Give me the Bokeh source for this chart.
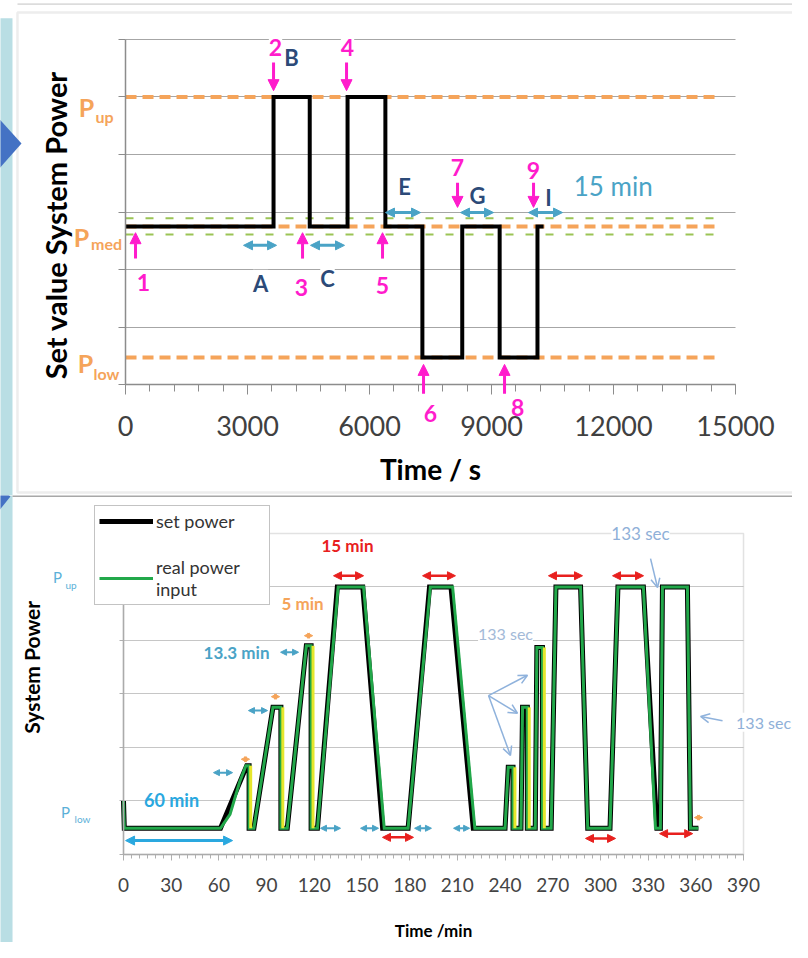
import math
from bokeh.plotting import figure
from bokeh.layouts import column
from bokeh.models import (Range1d, SingleIntervalTicker, FixedTicker, Label, Arrow, NormalHead,
                          OpenHead, Legend, LegendItem, PolyAnnotation, BoxAnnotation)
from bokeh.embed import file_html
from bokeh.resources import INLINE

FONT = "Lato"

# ---------------- top chart data (time in s, power in relative units) ----------------
P_UP, P_MED, P_LOW = 5.0, 2.75, 0.47
BAND_HI, BAND_LO = 2.89, 2.61
top_edges = [0, 3640, 4530, 5460, 6390, 7300, 8280, 9200, 10130, 10280]
top_levels = [P_MED, P_UP, P_MED, P_UP, P_MED, P_LOW, P_MED, P_LOW, P_MED]
ref_end = 14580
band_end = 14680
top_grid = [1, 2, 3, 4, 5, 6]

num_labels = ["1", "2", "3", "4", "5", "6", "7", "8", "9"]
num_x = [443, 3689, 4328, 5459, 6320, 7500, 8164, 9640, 10033]
num_y = [1.77, 5.86, 1.69, 5.86, 1.72, -0.50, 3.77, -0.40, 3.72]
marker_x = [246, 3640, 4353, 5435, 6320, 7328, 8164, 9320, 10033]
marker_y0 = [2.19, 5.60, 2.19, 5.60, 2.19, -0.16, 3.51, -0.16, 3.51]
marker_y1 = [2.64, 5.11, 2.64, 5.11, 2.64, 0.35, 3.08, 0.35, 3.08]
phase_labels = ["A", "B", "C", "E", "G", "I"]
phase_x = [3320, 4082, 4967, 6861, 8656, 10402]
phase_y = [1.76, 5.69, 1.84, 3.44, 3.29, 3.25]
dur_x0 = [2902, 4549, 6393, 8238, 9910]
dur_x1 = [3714, 5385, 7254, 9049, 10746]
dur_y = [2.42, 2.42, 2.99, 2.99, 2.99]

# ---------------- bottom chart data (time in min) ----------------
set_t = [0, 0.5, 61, 77.5, 79, 79, 82, 94, 99, 99, 103, 115, 118, 118, 122, 134.5, 150.5,
         163, 179, 192.5, 206, 220, 240, 242, 245, 245, 250, 251, 254, 254, 259, 260, 263.5,
         263.5, 269, 272, 287.5, 292, 306, 311, 327, 335.5, 337.7, 339, 354.7, 356.6, 361.6]
set_p = [1.0, 0.49, 0.49, 1.66, 1.66, 0.49, 0.49, 2.75, 2.75, 0.49, 0.49, 3.9, 3.9, 0.49,
         0.49, 5.0, 5.0, 0.49, 0.49, 5.0, 5.0, 0.49, 0.49, 1.63, 1.63, 0.49, 0.49, 2.75, 2.75,
         0.49, 0.49, 3.87, 3.87, 0.49, 0.49, 5.0, 5.0, 0.49, 0.49, 5.0, 5.0, 0.49, 0.49, 5.0,
         5.0, 0.49, 0.49]
real_t = [0, 0.5, 61, 67, 73, 77, 79, 79, 82, 94, 99, 99, 103, 115, 118, 118, 122, 135, 151,
          164, 179, 193, 207, 221, 240, 242, 245, 245, 250, 251, 254, 254, 259, 260, 263.5,
          263.5, 269, 272, 287.5, 292, 306, 311, 327, 334.6, 337.7, 339, 354.7, 356.6, 361.6]
real_p = [1.0, 0.49, 0.49, 0.75, 1.35, 1.66, 1.66, 0.49, 0.49, 2.75, 2.75, 0.49, 0.49, 3.9,
          3.9, 0.49, 0.49, 5.0, 5.0, 0.49, 0.49, 5.0, 5.0, 0.49, 0.49, 1.63, 1.63, 0.49, 0.49,
          2.75, 2.75, 0.49, 0.49, 3.87, 3.87, 0.49, 0.49, 5.0, 5.0, 0.49, 0.49, 5.0, 5.0, 0.49,
          0.49, 5.0, 5.0, 0.49, 0.49]
drop_t = [80, 100.2, 119.2, 246.2, 255.2, 264.7]
drop_top = [1.66, 2.75, 3.9, 1.63, 2.75, 3.87]
BASE = 0.49
bottom_grid = [1, 2, 3, 4, 5]

teal_x0 = [56.6, 78.6, 98.8, 123.9, 149.1, 183.1, 207.6]
teal_x1 = [68.6, 90.6, 110.1, 136.5, 160.4, 193.7, 217.7]
teal_y = [1.53, 2.69, 3.78, 0.49, 0.49, 0.49, 0.49]
orange_x = [76.7, 95.6, 116.4, 361.7]
orange_y = [1.78, 2.95, 4.09, 0.69]
red_x0 = [132.1, 188.1, 267.3, 307.6, 162.9, 290.6, 337.2]
red_x1 = [151.0, 208.8, 288.7, 327.1, 182.4, 309.5, 358.0]
red_y = [5.21, 5.21, 5.21, 5.21, 0.32, 0.30, 0.39]
hint_x0 = [331.5, 229.6, 229.6, 229.6, 376.8]
hint_y0 = [5.53, 2.97, 2.97, 2.97, 2.50]
hint_x1 = [335.9, 254.1, 247.8, 243.4, 363.0]
hint_y1 = [4.99, 3.35, 2.64, 1.85, 2.58]

MAGENTA = "#ff1ccc"
NAVY = "#2c4a78"
TEAL = "#4aa3c6"
ORANGE = "#f5a45a"
GREEN_D = "#9bc455"
STRIP = "#b9dee4"
TRI = "#4472c4"


def style_axis(ax, color):
    ax.axis_line_color = color
    ax.axis_line_width = 1.5
    ax.major_tick_line_color = color
    ax.minor_tick_line_color = color
    ax.major_tick_in = 0
    ax.minor_tick_in = 0
    ax.major_label_text_font = FONT
    ax.axis_label_text_font = FONT
    ax.axis_label_text_font_style = "bold"
    ax.axis_label_text_color = "black"


def lab(p, x, y, text, color, size, style="bold", bg=None, angle=0):
    p.add_layout(Label(x=x, y=y, text=text, text_align="center", text_baseline="middle",
                       text_font=FONT, text_font_size=size, text_font_style=style,
                       text_color=color, background_fill_color=bg, angle=angle))


def dbl_arrow(p, x0, y0, x1, y1, color, width, size):
    p.add_layout(Arrow(x_start=x0, y_start=y0, x_end=x1, y_end=y1, line_color=color,
                       line_width=width,
                       start=NormalHead(size=size, fill_color=color, line_color=color),
                       end=NormalHead(size=size, fill_color=color, line_color=color)))


# ======================= top figure =======================
p1 = figure(x_range=Range1d(-3074, 16401), y_range=Range1d(-1.930, 6.678), width=792, height=495,
            min_border=0, output_backend="svg", toolbar_location=None)
p1.outline_line_color = None
p1.background_fill_color = "white"
p1.border_fill_color = "white"

# panel decoration
p1.add_layout(PolyAnnotation(xs=[-3300, -2779, -2779, -3300], ys=[6.37, 6.37, -2.1, -2.1],
                             fill_color=STRIP, fill_alpha=1, line_color=None))
p1.add_layout(BoxAnnotation(left=-2656, right=16672, top=6.47, bottom=-1.88, fill_alpha=0,
                            line_color="#c4c4c4", line_width=2.5))
p1.add_layout(BoxAnnotation(left=-2656, right=16672, top=6.63, bottom=6.60, fill_color="#dcdcdc",
                            fill_alpha=1, line_color=None))
p1.add_layout(PolyAnnotation(xs=[-3300, -2557, -3300], ys=[4.77, 4.19, 3.60],
                             fill_color=TRI, fill_alpha=1, line_color=None))

p1.xaxis.ticker = SingleIntervalTicker(interval=3000, num_minor_ticks=5)
p1.yaxis.ticker = SingleIntervalTicker(interval=1, num_minor_ticks=0)
p1.xaxis.fixed_location = 0
p1.yaxis.fixed_location = 0
p1.xaxis.bounds = (0, 15000)
p1.yaxis.bounds = (0, 6)
p1.xgrid.grid_line_color = None
p1.ygrid.ticker = FixedTicker(ticks=top_grid)
p1.ygrid.cross_bounds = (0, 15000)
p1.ygrid.grid_line_color = "#a6a6a6"
p1.ygrid.grid_line_width = 1.2
style_axis(p1.xaxis[0], "#8c8c8c")
style_axis(p1.yaxis[0], "#8c8c8c")
p1.xaxis.major_tick_out = 10
p1.xaxis.minor_tick_out = 7
p1.xaxis.major_label_text_font_size = "27px"
p1.xaxis.major_label_text_color = "#404040"
p1.xaxis.major_label_standoff = 21
p1.xaxis.axis_label = "Time / s"
p1.xaxis.axis_label_text_font_size = "28px"
p1.xaxis.axis_label_standoff = 13
p1.yaxis.major_tick_out = 7
p1.yaxis.minor_tick_out = 0
p1.yaxis.major_label_overrides = {i: "" for i in range(7)}
lab(p1, -1721, 2.77, "Set value System Power", "black", "29px", angle=math.pi / 2)

# reference levels
p1.line([0, ref_end], [P_UP, P_UP], line_color=ORANGE, line_width=4, line_dash="11 6")
p1.line([0, ref_end], [P_LOW, P_LOW], line_color=ORANGE, line_width=4, line_dash="11 6")
p1.line([0, band_end], [BAND_HI, BAND_HI], line_color=GREEN_D, line_width=2, line_dash="8 12")
p1.line([0, band_end], [BAND_LO, BAND_LO], line_color=GREEN_D, line_width=2, line_dash="8 12")
p1.line([0, ref_end], [P_MED, P_MED], line_color=ORANGE, line_width=4, line_dash="11 6")

sx, sy = [], []
for i, lv in enumerate(top_levels):
    sx += [top_edges[i], top_edges[i + 1]]
    sy += [lv, lv]
p1.line(sx, sy, line_color="black", line_width=4, line_join="miter")

for t, x, y in zip(num_labels, num_x, num_y):
    lab(p1, x, y, t, MAGENTA, "23px", bg="white")
for x, y0, y1 in zip(marker_x, marker_y0, marker_y1):
    p1.add_layout(Arrow(x_start=x, y_start=y0, x_end=x, y_end=y1, line_color=MAGENTA, line_width=3,
                        end=NormalHead(size=11, fill_color=MAGENTA, line_color=MAGENTA)))
for t, x, y in zip(phase_labels, phase_x, phase_y):
    lab(p1, x, y, t, NAVY, "22px", bg="white")
for x0, x1, y in zip(dur_x0, dur_x1, dur_y):
    dbl_arrow(p1, x0, y, x1, y, TEAL, 3, 9)
lab(p1, 12074, 3.46, "15  min", TEAL, "26px", style="normal")

for txt, sub, px_, py_, sx_, sy_ in [("P", "up", -959, 4.83, -516, 4.66),
                                     ("P", "med", -1082, 2.57, -467, 2.45),
                                     ("P", "low", -984, 0.37, -467, 0.19)]:
    lab(p1, px_, py_, txt, ORANGE, "25px")
    lab(p1, sx_, sy_, sub, ORANGE, "16px")

# ======================= bottom figure =======================
p2 = figure(x_range=Range1d(-77.37, 420.8), y_range=Range1d(-1.645, 6.710), width=792, height=447,
            min_border=0, output_backend="svg", toolbar_location=None)
p2.outline_line_color = None
p2.background_fill_color = "white"
p2.border_fill_color = "white"

p2.add_layout(PolyAnnotation(xs=[-90, -69.8, -69.8, -90], ys=[7.0, 7.0, -2.0, -2.0],
                             fill_color=STRIP, fill_alpha=1, line_color=None))
p2.add_layout(PolyAnnotation(xs=[-90, -71.1, -90], ys=[7.18, 6.69, 6.0],
                             fill_color=TRI, fill_alpha=1, line_color=None))
p2.add_layout(BoxAnnotation(left=-69.8, right=500, top=6.75, bottom=6.68, fill_color="#a8a8a8",
                            fill_alpha=1, line_color=None))
p2.add_layout(BoxAnnotation(left=0, right=390, top=6, bottom=0, fill_alpha=0,
                            line_color="#a0a0a0", line_width=1.5))

p2.xaxis.ticker = SingleIntervalTicker(interval=30, num_minor_ticks=6)
p2.yaxis.ticker = SingleIntervalTicker(interval=1, num_minor_ticks=0)
p2.xaxis.fixed_location = 0
p2.yaxis.fixed_location = 0
p2.xaxis.bounds = (0, 390)
p2.yaxis.bounds = (0, 6)
p2.xgrid.grid_line_color = None
p2.ygrid.ticker = FixedTicker(ticks=bottom_grid)
p2.ygrid.cross_bounds = (0, 390)
p2.ygrid.grid_line_color = "#c6c6c6"
p2.ygrid.grid_line_width = 1.2
style_axis(p2.xaxis[0], "#b0b0b0")
style_axis(p2.yaxis[0], "#b0b0b0")
p2.xaxis.major_tick_out = 6
p2.xaxis.minor_tick_out = 4
p2.xaxis.major_label_text_font_size = "19px"
p2.xaxis.major_label_text_color = "#444444"
p2.xaxis.major_label_standoff = 18
p2.xaxis.axis_label = "Time /min"
p2.xaxis.axis_label_text_font_size = "17px"
p2.xaxis.axis_label_standoff = 24
p2.yaxis.major_tick_out = 4
p2.yaxis.minor_tick_out = 0
p2.yaxis.major_label_overrides = {i: "" for i in range(7)}
lab(p2, -57.9, 3.50, "System Power", "black", "21px", angle=math.pi / 2)

r_set = p2.line(set_t, set_p, line_color="black", line_width=5, line_join="miter")
r_real = p2.line(real_t, real_p, line_color="#22a84a", line_width=3, line_join="miter")
p2.segment(x0=drop_t, y0=drop_top, x1=drop_t, y1=[BASE] * len(drop_t), line_color="#e6e62c",
           line_width=3)

for x0, x1, y in zip(teal_x0, teal_x1, teal_y):
    dbl_arrow(p2, x0, y, x1, y, TEAL, 2, 6)
for x, y in zip(orange_x, orange_y):
    dbl_arrow(p2, x - 2.6, y, x + 2.6, y, ORANGE, 1.5, 5)
for x0, x1, y in zip(red_x0, red_x1, red_y):
    dbl_arrow(p2, x0, y, x1, y, "#e8201e", 2.5, 8)
dbl_arrow(p2, 1.3, 0.26, 68.6, 0.26, "#2aa8df", 3, 9)
for x0, y0, x1, y1 in zip(hint_x0, hint_y0, hint_x1, hint_y1):
    p2.add_layout(Arrow(x_start=x0, y_start=y0, x_end=x1, y_end=y1, line_color="#8fb2dc",
                        line_width=1.5, end=OpenHead(size=9, line_color="#8fb2dc", line_width=1.5)))

lab(p2, 30.2, 1.01, "60 min", "#2aa8df", "18px")
lab(p2, 71.1, 3.78, "13.3 min", TEAL, "17px")
lab(p2, 112.6, 4.69, "5 min", ORANGE, "17px")
lab(p2, 140.9, 5.78, "15 min", "#e8201e", "17px")
lab(p2, 325.2, 6.0, "133 sec", "#8fb0d8", "17px", style="normal", bg="white")
lab(p2, 240.3, 4.13, "133 sec", "#a3bad8", "16px", style="normal", bg="white")
lab(p2, 402.6, 2.47, "133 sec", "#8fb0d8", "16px", style="normal", bg="white")

lab(p2, -41.5, 5.18, "P", "#5bb0d8", "15px", style="normal")
lab(p2, -33.0, 5.03, "up", "#5bb0d8", "10px", style="normal")
lab(p2, -36.5, 0.79, "P", "#5bb0d8", "15px", style="normal")
lab(p2, -25.8, 0.66, "low", "#5bb0d8", "10px", style="normal")

legend = Legend(items=[LegendItem(label="set power", renderers=[r_set]),
                       LegendItem(label="real power\ninput", renderers=[r_real])],
                location=(94, 337), label_text_font=FONT, label_text_font_size="18px",
                label_text_color="#333333", glyph_width=54, glyph_height=18, label_standoff=3,
                label_width=109, padding=4, spacing=24, margin=0, border_line_color="#888888",
                border_line_width=1.5, background_fill_alpha=1)
p2.add_layout(legend)

layout = column(p1, p2, spacing=0)
open("out.html", "w").write(file_html(layout, INLINE))
